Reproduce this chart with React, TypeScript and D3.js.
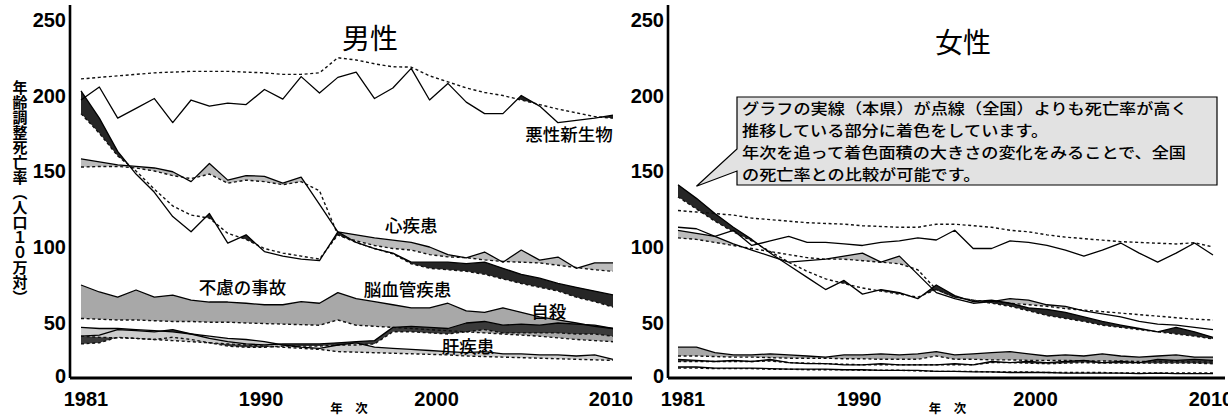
import React from "react";
import * as d3 from "d3";

// ---------- categories / ticks ----------
const years = [1981,1982,1983,1984,1985,1986,1987,1988,1989,1990,1991,1992,1993,1994,1995,1996,1997,1998,1999,2000,2001,2002,2003,2004,2005,2006,2007,2008,2009,2010];
const xTicks = [1981, 1990, 2000, 2010];
const yTicks = [0, 50, 100, 150, 200, 250];

// ---------- male (pref = solid 本県, nat = dotted 全国) ----------
const mCancerPref = [197,205.6,185,191.5,198,182,197,193,195,194,204,197.6,212.5,201.6,212,215.5,198,205,218,197,208,195.6,188,188,200,193,182,183.5,185,187];
const mCancerNat  = [211,212,213,214,215,215.5,216,216,216,215.5,215,214,214,215,225,223.5,221,219,218.8,213,209,205,202,200,197,194,191,188.5,186,185];
const mHeartPref  = [158,156,154,153,152,149.5,143,155,144,147,146.5,142,146,128,110,108,106,104.5,103,100,95,92.8,96.7,90,98,91.4,93.4,86,89.5,89.5];
const mHeartNat   = [152.6,153,153,152,150,147,145,148,142,144,143,141,143,137,108,104,101,99,98,95,93.5,93,91.5,90.5,90,89.5,88,86.5,85,84];
const mStrokePref = [203,185,163,148,136,120,110,122,102.6,108,97,94,92,91,110,103,99,96,90,90,90,89,90,86,82,79.5,76,73.5,71,68.5];
const mStrokeNat  = [188,175,160,150,138,127,121,119,109,105,99,96,94,92,108,103,99,95.5,89,86,85,84,82,79,76,73.5,71,67,64,60.5];
const mAccPref    = [75,70.4,67,71.7,67,68.4,65,63.8,63.8,63,62,62,64,63,70,66,64,62,60,60,63,58,57,60,57,54,52,50,47,45];
const mAccNat     = [53,52.5,52,52,51.5,51,51,50.5,50.5,50,49.5,49,48.5,48,52,48,47,46,45,44,43,42,41,40,39,38,36.5,35,34,33];
const mSuiPref    = [38,39,44,43,42,44,40,36,33,31,30,31,31,31,32,33,34,46,47,46,45,50,51,48,49,48,50,49,48,45];
const mSuiNat     = [31,32,37,36,35,37,35,32,29,28,28,29,29,29,30,30,31,42,42,41,40,42,44,41,41,41,41,40,40,38];
const mLivPref    = [46,45,45,44,43,42,40,38,36,35,33,30,28,27,30,32,28,27,26,25,24,23,24,22,22,21,21,20,21,17];
const mLivNat     = [38,37,36.5,36,35,34,33,32,31,30,29,28,27,26,24,23.5,23,22.5,22,21.5,21,20,19.5,19,18.5,18,17.5,17,16.5,16];

// ---------- female ----------
const fCancerPref = [113,112,107,111,101,104,107,103,103,102,101,103,104,106,104.6,111,99,99,104,103,101,98,94,98,102.6,96,90,96,102.6,94.7];
const fCancerNat  = [124,123,122,121,119,118,117,116,115.5,115,114,113.5,113,113,115,115,114,113,111,110,108,106.5,105.5,104.5,103.5,103,102.5,102,102.8,100];
const fHeartPref  = [111,109,107,102,98,94,90,91,92,94,96,90,94,82,70,66,63,64,66,65,62,61,58,56,54,51,49,48,46,44];
const fHeartNat   = [106,105,103,101,99,97,95,93,92,92,91,90,89,85,72,67,65,64,63,62,61,59.5,58.5,57.5,56.5,55.5,54.5,53.5,52.5,52];
const fStrokePref = [141,132,122,113,105,96,88,80,72,78,69,72,70,66,75,68,64,65,63,60,59,57,54,51,48,45,42,46,42,37];
const fStrokeNat  = [133,125,117,110,104,97,90,84,79,76,73,71,69,67,72,67,65,63,61,58,55,53,51,48,46,44,42,40,38,35.5];
const fAccPref    = [28,28,23,21,21,22,21,20,19,21,21,22,21,22,24,21,22,23,24,22,20,21,20,22,20,19,20,21,19,19];
const fAccNat     = [20,20,19.5,19,19,18.5,18,18,18,17.5,17.5,17,17,17,20,17,17,16.5,16.5,16,16,16,15.5,15.5,15.5,15,15,15,14.5,14.5];
const fSuiPref    = [17,16,15,16,15,17,14,13,13,12,12,13,12,12,12,13,12,15,14,15,14,15,16,14,15,14,17,16,17,16];
const fSuiNat     = [15,15,15,15,15,15.5,14,13.5,13,12.5,12,12,12,12,12,12,12,14,14,13.5,13,13.5,14,13.5,13.5,13.5,13.5,13.5,13.5,13];
const fLivPref    = [10,10,9,9,9,8.5,8,8,8,7.5,7.5,7,7,7,6,6,5.5,5.5,5,5,5,4.5,4.5,4.5,4.5,4,4.5,4,4,4];
const fLivNat     = [9,9,8.5,8.5,8.5,8,8,7.5,7.5,7.5,7,7,7,6.5,6,6,6,5.5,5.5,5.5,5,5,5,5,4.5,4.5,4.5,4.5,4.5,4.5];

const calloutLines = [
  "グラフの実線（本県）が点線（全国）よりも死亡率が高く",
  "推移している部分に着色をしています。",
  "年次を追って着色面積の大きさの変化をみることで、全国",
  "の死亡率との比較が可能です。",
];

const FILL = {
  cancer: "#1e1e1e",
  heart: "#bcbcbc",
  stroke: "#262626",
  acc: "#a8a8a8",
  sui: "#3a3a3a",
  liv: "#cdcdcd",
};

const maleSeries = [
  { pref: mCancerPref, nat: mCancerNat, fill: FILL.cancer },
  { pref: mHeartPref, nat: mHeartNat, fill: FILL.heart },
  { pref: mStrokePref, nat: mStrokeNat, fill: FILL.stroke },
  { pref: mAccPref, nat: mAccNat, fill: FILL.acc },
  { pref: mSuiPref, nat: mSuiNat, fill: FILL.sui },
  { pref: mLivPref, nat: mLivNat, fill: FILL.liv },
];
const femaleSeries = [
  { pref: fCancerPref, nat: fCancerNat, fill: FILL.cancer },
  { pref: fHeartPref, nat: fHeartNat, fill: FILL.heart },
  { pref: fStrokePref, nat: fStrokeNat, fill: FILL.stroke },
  { pref: fAccPref, nat: fAccNat, fill: FILL.acc },
  { pref: fSuiPref, nat: fSuiNat, fill: FILL.sui },
  { pref: fLivPref, nat: fLivNat, fill: FILL.liv },
];

// cause labels (male panel) in data coordinates
const maleLabels = [
  { text: "悪性新生物", year: 2007.6, value: 175 },
  { text: "心疾患", year: 1999.0, value: 115 },
  { text: "不慮の事故", year: 1989.8, value: 73.7 },
  { text: "脳血管疾患", year: 1998.8, value: 73 },
  { text: "自殺", year: 2006.5, value: 58.5 },
  { text: "肝疾患", year: 2002.1, value: 30 },
];

const W = 1228, H = 418;
const NUM = "'Liberation Sans', Arial, sans-serif";
const JP = "'Noto Sans CJK JP', 'Noto Sans', sans-serif";

const y = d3.scaleLinear().domain([0, 50, 100, 150, 200, 250]).range([378, 323, 247, 171, 95.5, 20]);

// horizontal nudge of the year labels relative to their tick year (as printed in the original)
const tickNudge = (t: number) => (t === 1990 ? 15 : t === 2000 ? 7 : t === 2010 ? -2 : 5);

type Pt = { px: number; top: number; bot: number };

function shadePolys(x: d3.ScaleLinear<number, number>, pref: number[], nat: number[]): Pt[][] {
  const pts: Pt[] = years.map((yr, i) => ({ px: x(yr), top: y(pref[i]), bot: y(nat[i]) }));
  const polys: Pt[][] = [];
  let cur: Pt[] = [];
  for (let i = 0; i < pts.length; i++) {
    const p = pts[i];
    const d = p.bot - p.top;
    if (i > 0) {
      const q = pts[i - 1];
      const dq = q.bot - q.top;
      if ((dq > 0 && d <= 0) || (dq <= 0 && d > 0)) {
        const t = dq / (dq - d);
        const cy = q.top + t * (p.top - q.top);
        const c = { px: q.px + t * (p.px - q.px), top: cy, bot: cy };
        if (dq > 0) {
          cur.push(c);
          polys.push(cur);
          cur = [];
        } else {
          cur = [c];
        }
      }
    }
    if (d > 0) cur.push(p);
  }
  if (cur.length > 1) polys.push(cur);
  return polys;
}

const area = d3.area<Pt>().x(d => d.px).y0(d => d.bot).y1(d => d.top);

function Panel({ x, axisX, axisEnd, series, title, titleX, titleY, labels }: any) {
  const line = d3.line<number>().x((_, i) => x(years[i])).y(d => y(d));
  return (
    <g>
      {series.map((s: any, si: number) =>
        shadePolys(x, s.pref, s.nat).map((poly, pi) => (
          <path key={`f${si}-${pi}`} d={area(poly) || ""} fill={s.fill} stroke="none" />
        ))
      )}
      {series.map((s: any, si: number) => (
        <g key={`l${si}`}>
          <path d={line(s.nat) || ""} fill="none" stroke="#111" strokeWidth={1.4} strokeDasharray="3,2.6" />
          <path d={line(s.pref) || ""} fill="none" stroke="#000" strokeWidth={1.3} strokeLinejoin="round" />
        </g>
      ))}
      {/* axes */}
      <line x1={axisX} x2={axisX} y1={5} y2={y(0)} stroke="#000" strokeWidth={2.6} />
      <line x1={axisX} x2={axisEnd} y1={y(0)} y2={y(0)} stroke="#000" strokeWidth={2.8} />
      {yTicks.map(t => (
        <text key={t} x={axisX - 4} y={y(t) - (t === 0 ? 2 : 0)} textAnchor="end" dominantBaseline="central"
          fontFamily={NUM} fontWeight={700} fontSize={20} fill="#000">{t}</text>
      ))}
      {xTicks.map(t => (
        <text key={t} x={x(t) + tickNudge(t)} y={y(0) + 28} textAnchor="middle"
          fontFamily={NUM} fontWeight={700} fontSize={20} fill="#000">{t}</text>
      ))}
      <text x={(x(1981) + x(2010)) / 2 + 2} y={y(0) + 35} textAnchor="middle" fontFamily={JP} fontWeight={700}
        fontSize={12.5} fill="#000" style={{ whiteSpace: "pre" }}>{"年　次"}</text>
      <text x={titleX} y={titleY} textAnchor="middle" dominantBaseline="central" fontFamily={JP}
        fontSize={28} fill="#000">{title}</text>
      {labels.map((l: any) => (
        <text key={l.text} x={x(l.year)} y={y(l.value)} textAnchor="middle" dominantBaseline="central"
          fontFamily={JP} fontWeight={500} fontSize={17.5} fill="#000">{l.text}</text>
      ))}
    </g>
  );
}

export default function App() {
  const xM = d3.scaleLinear().domain([1981, 2010]).range([81, 613]);
  const xF = d3.scaleLinear().domain([1981, 2010]).range([678, 1213]);

  const bx0 = 737, bx1 = 1217, by0 = 97, by1 = 185;
  const tipX = xF(1982), tipY = y(140);
  const callout = `M${bx0},${by0} L${bx1},${by0} L${bx1},${by1} L${bx0},${by1} L${bx0},${by1 - 14} L${tipX},${tipY} L${bx0},${by1 - 36} Z`;
  const lh = (by1 - by0) / 4;

  return (
    <svg width={W} height={H} viewBox={`0 0 ${W} ${H}`}
      style={{ position: "absolute", left: 0, top: 0, background: "#fff" }}>
      <rect x={0} y={0} width={W} height={H} fill="#fff" />
      <text x={20} y={80} fontFamily={JP} fontWeight={700} fontSize={15} fill="#000"
        style={{ writingMode: "vertical-rl" as any }}>年齢調整死亡率（人口１０万対）</text>
      <Panel x={xM} axisX={70} axisEnd={632} series={maleSeries} title="男性" titleX={370} titleY={37} labels={maleLabels} />
      <Panel x={xF} axisX={668} axisEnd={1225} series={femaleSeries} title="女性" titleX={963} titleY={41} labels={[]} />
      <path d={callout} fill="#e2e2e2" stroke="#000" strokeWidth={1.2} />
      {calloutLines.map((t, i) => (
        <text key={i} transform={`translate(${bx0 + 5},${by0 + lh * (i + 0.5)}) scale(1.16,1)`}
          dominantBaseline="central" fontFamily={JP}
          fontWeight={500} fontSize={14.8} fill="#000">{t}</text>
      ))}
    </svg>
  );
}
